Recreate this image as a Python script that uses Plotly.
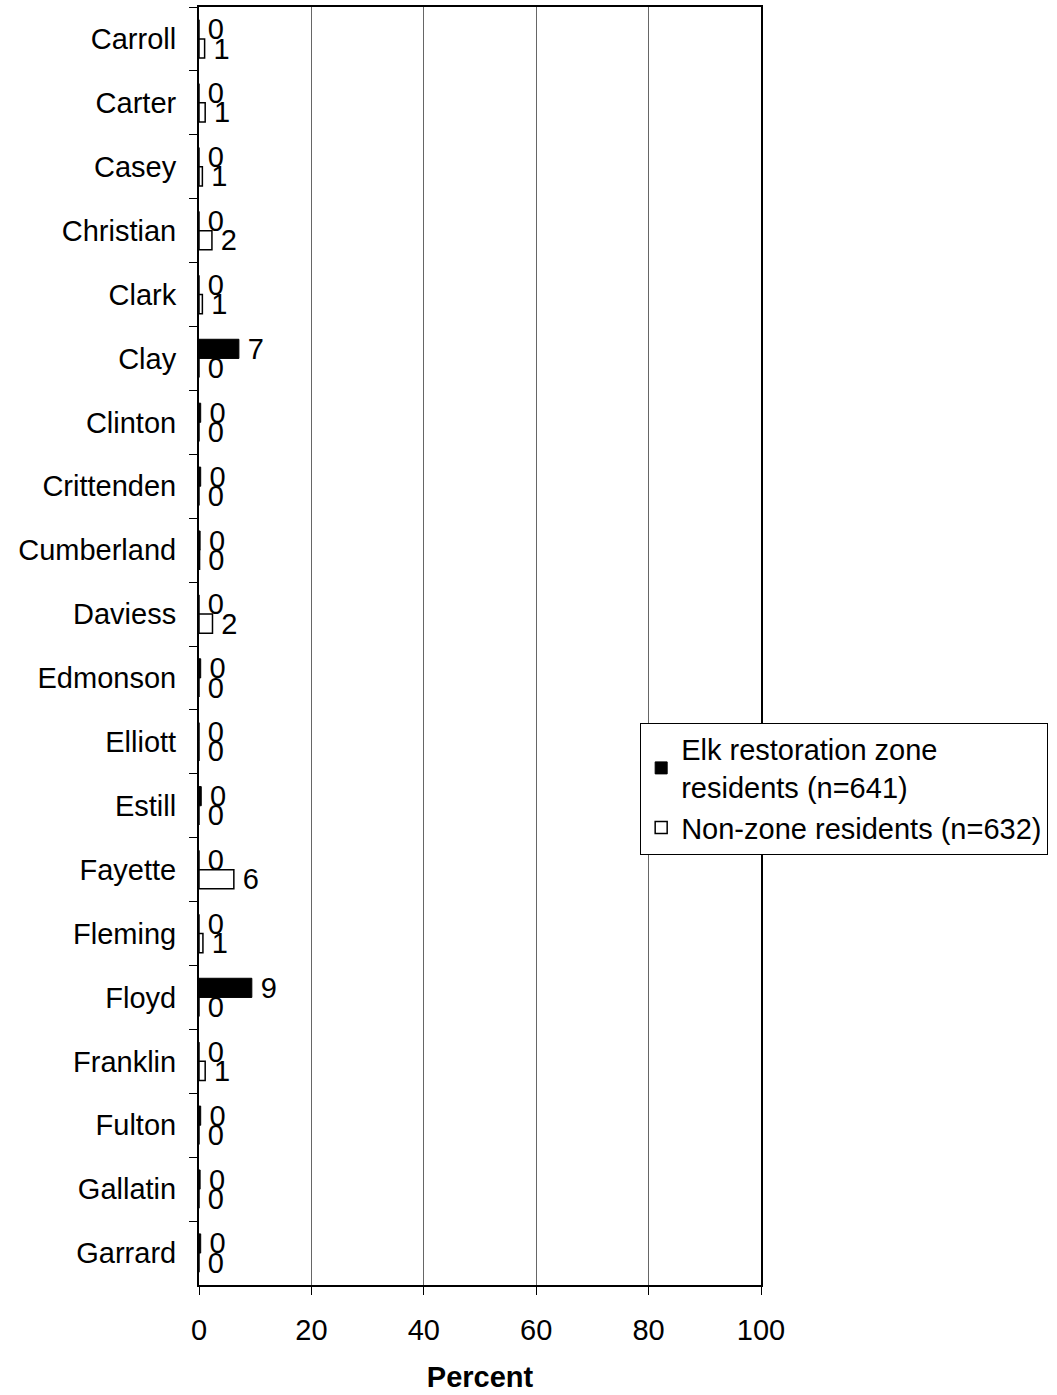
import plotly.graph_objects as go

counties = ["Carroll", "Carter", "Casey", "Christian", "Clark", "Clay", "Clinton",
            "Crittenden", "Cumberland", "Daviess", "Edmonson", "Elliott", "Estill",
            "Fayette", "Fleming", "Floyd", "Franklin", "Fulton", "Gallatin", "Garrard"]
zone_vals = [0.0, 0.0, 0.0, 0.0, 0.0, 7.1, 0.3, 0.3, 0.2, 0.0, 0.3, 0.0, 0.4,
             0.0, 0.0, 9.4, 0.0, 0.3, 0.2, 0.3]
nonzone_vals = [1.0, 1.1, 0.6, 2.3, 0.6, 0.0, 0.0, 0.0, 0.1, 2.4, 0.0, 0.0, 0.0,
                6.2, 0.7, 0.0, 1.1, 0.0, 0.0, 0.0]
zone_labels = ["0", "0", "0", "0", "0", "7", "0", "0", "0", "0", "0", "0", "0",
               "0", "0", "9", "0", "0", "0", "0"]
nonzone_labels = ["1", "1", "1", "2", "1", "0", "0", "0", "0", "2", "0", "0", "0",
                  "6", "1", "0", "1", "0", "0", "0"]
x_ticks = [0, 20, 40, 60, 80, 100]

FONT = "Arial, Liberation Sans, sans-serif"
FS = 29

fig = go.Figure()
fig.add_trace(go.Bar(
    y=counties, x=zone_vals, orientation="h",
    name="Elk restoration zone<br>residents (n=641)",
    marker=dict(color="black", line=dict(color="black", width=1)),
    text=["\u2009" + t for t in zone_labels], textposition="outside",
    constraintext="none", cliponaxis=False,
    textfont=dict(size=FS, color="black", family=FONT),
))
fig.add_trace(go.Bar(
    y=counties, x=nonzone_vals, orientation="h",
    name="Non-zone residents (n=632)",
    marker=dict(color="white", line=dict(color="black", width=1.5)),
    text=["\u2009" + t for t in nonzone_labels], textposition="outside",
    constraintext="none", cliponaxis=False,
    textfont=dict(size=FS, color="black", family=FONT),
))

fig.update_layout(
    width=1057, height=1395,
    margin=dict(l=199, r=296, t=5, b=110),
    barmode="group", bargap=0.4, bargroupgap=0,
    plot_bgcolor="white", paper_bgcolor="white",
    font=dict(family=FONT, size=FS, color="black"),
    showlegend=True,
    legend=dict(
        x=0.785, y=0.44, xanchor="left", yanchor="top",
        bgcolor="white", bordercolor="black", borderwidth=1,
        font=dict(size=FS, family=FONT, color="black"),
        tracegroupgap=4, itemwidth=30,
    ),
    xaxis=dict(
        range=[0, 100], tickvals=x_ticks, ticktext=[str(v) for v in x_ticks],
        showgrid=True, gridcolor="#666666", gridwidth=1,
        showline=True, linecolor="black", linewidth=2, mirror=True,
        ticks="outside", ticklen=8, tickcolor="black", tickwidth=1,
        tickfont=dict(size=FS), zeroline=False, ticklabelstandoff=10,
        title=dict(text="<b>Percent</b>", font=dict(size=FS), standoff=22),
    ),
    yaxis=dict(
        autorange="reversed", type="category",
        showline=True, linecolor="black", linewidth=2, mirror=True,
        ticks="outside", ticklen=8, tickcolor="black", tickwidth=1,
        tickson="boundaries", showgrid=False,
        tickfont=dict(size=FS), ticklabelstandoff=15,
    ),
)

fig.write_html("out.html", config={"displayModeBar": False},
               post_script="document.body.style.margin='0';")
